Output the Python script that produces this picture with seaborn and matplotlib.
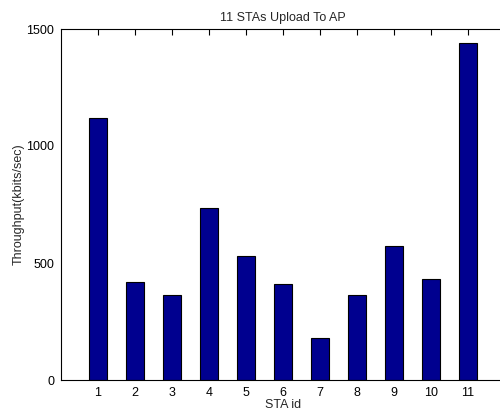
import pandas as pd
import matplotlib
matplotlib.use("Agg")
import matplotlib.pyplot as plt
import seaborn as sns

# Throughput per station
sta_ids = [1, 2, 3, 4, 5, 6, 7, 8, 9, 10, 11]
throughput = [1121, 417, 363, 734, 529, 410, 178, 362, 573, 432, 1440]

df = pd.DataFrame({"sta": sta_ids, "throughput": throughput})

sns.set_style("white")
plt.rcParams['font.family'] = ['Liberation Sans', 'DejaVu Sans']

fig = plt.figure(figsize=(5, 4.11), dpi=100)
# axes extend slightly past the right edge, as in the reference
ax = fig.add_axes([61 / 500, 31 / 411, 444 / 500, 351 / 411])

sns.barplot(data=df, x="sta", y="throughput", native_scale=True, width=0.5,
            color="#00008f", saturation=1, edgecolor="black", linewidth=0.8, ax=ax)

ax.set_xlim(0, 12)
ax.set_ylim(0, 1500)
ax.set_xticks(sta_ids)
ax.set_yticks([0, 500, 1000, 1500])
ax.tick_params(direction="in", length=4, width=0.8, top=True, right=False,
               labelsize=9, colors="black", pad=5)
for s in ax.spines.values():
    s.set_color("black")
    s.set_linewidth(0.8)

ax.set_title("11 STAs Upload To AP", fontsize=9, pad=6)
ax.set_xlabel("STA id", fontsize=9, labelpad=0)
ax.set_ylabel("Throughput(kbits/sec)", fontsize=9, labelpad=1)

fig.savefig("out.png", dpi=100)
